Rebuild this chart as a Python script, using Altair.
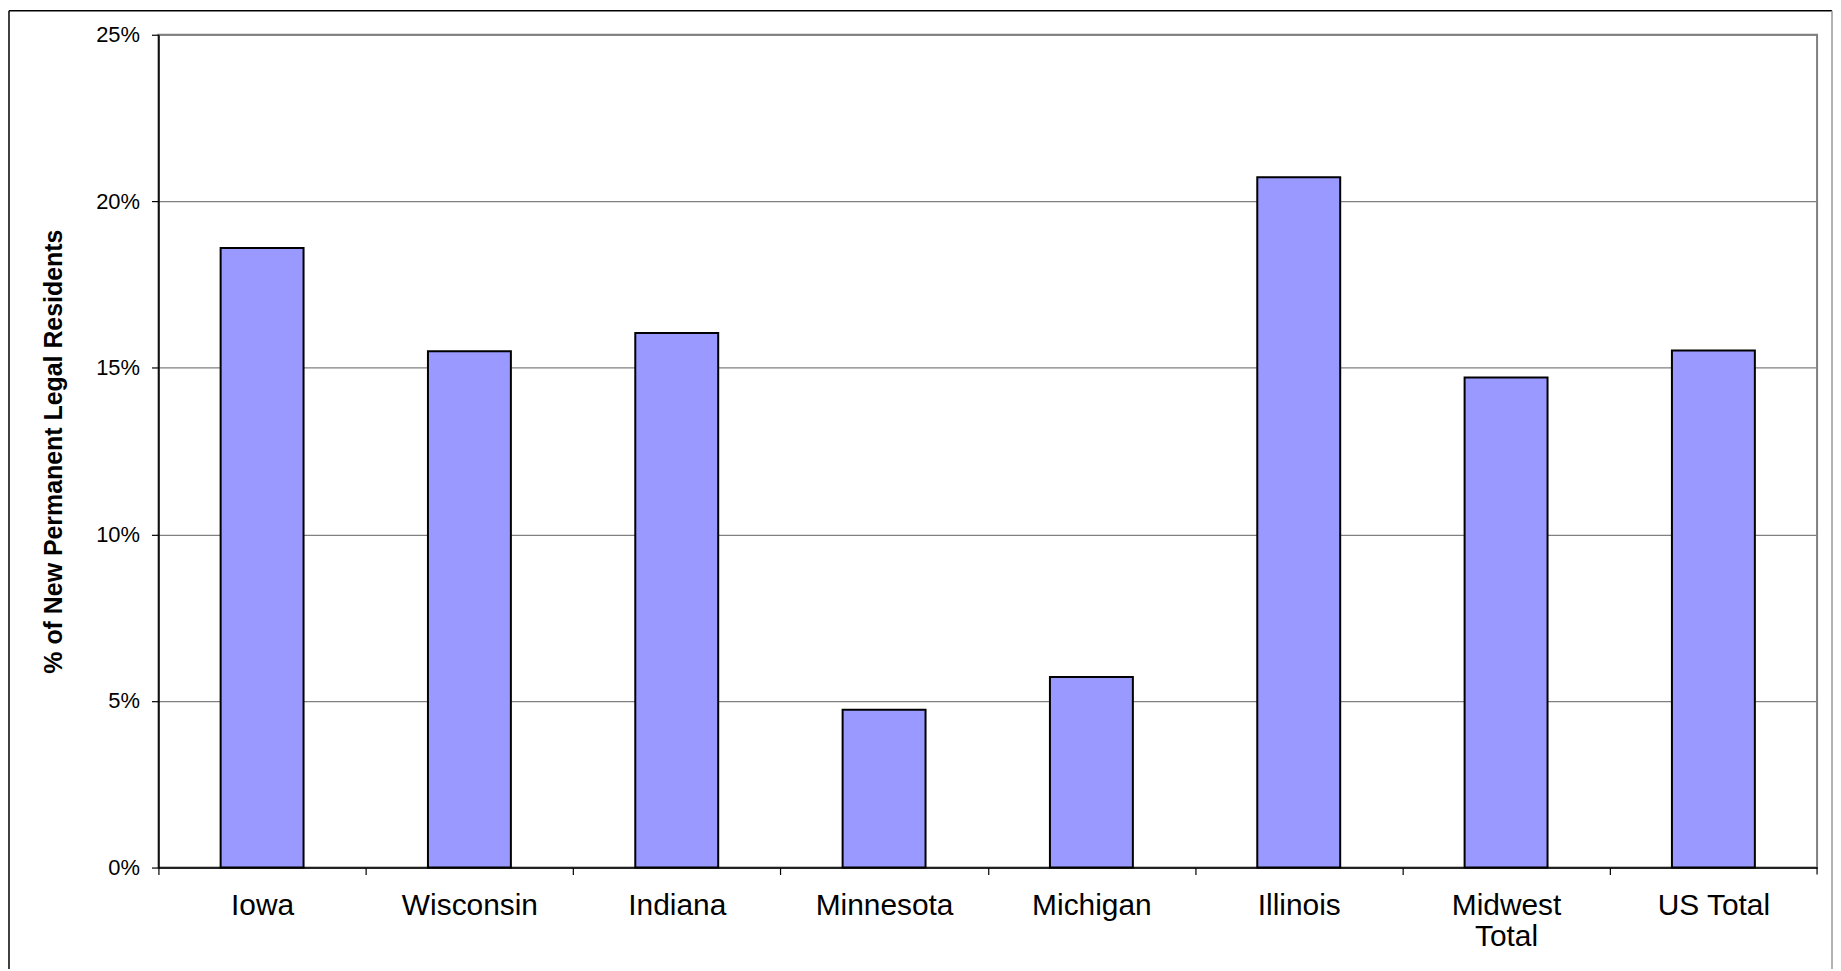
import altair as alt
import pandas as pd

categories = ["Iowa", "Wisconsin", "Indiana", "Minnesota", "Michigan", "Illinois", "Midwest Total", "US Total"]
values = [18.6, 15.5, 16.05, 4.74, 5.72, 20.72, 14.71, 15.52]
y_ticks = [0, 5, 10, 15, 20, 25]
y_title = "% of New Permanent Legal Residents"

df = pd.DataFrame({"category": categories, "value": values})

W, H = 1665, 836
step = W / len(categories)

bars = alt.Chart(df).mark_bar(
    color="#9999FF", stroke="#000000", strokeWidth=2
).encode(
    x=alt.X(
        "category:N",
        sort=categories,
        scale=alt.Scale(paddingInner=0.6, paddingOuter=0.3),
        axis=alt.Axis(
            title=None,
            labelAngle=0,
            labelFont="Liberation Sans",
            labelFontSize=30,
            labelColor="#000000",
            labelBaseline="top",
            labelPadding=16,
            labelLineHeight=31,
            labelExpr="datum.label == 'Midwest Total' ? ['Midwest', 'Total'] : datum.label",
            tickOffset=-step / 2,
            labelOffset=step / 2,
            tickSize=7,
            tickColor="#000000",
            tickWidth=1.2,
            domainColor="#000000",
            domainWidth=1.6,
            grid=False,
        ),
    ),
    y=alt.Y(
        "value:Q",
        scale=alt.Scale(domain=[0, 25], nice=False),
        axis=alt.Axis(
            title=y_title,
            titleFont="Liberation Sans",
            titleFontSize=25,
            titleFontWeight="bold",
            titleColor="#000000",
            titleAngle=-90,
            titleBaseline="alphabetic",
            titleAlign="center",
            titleX=-97,
            titleY=H / 2,
            values=y_ticks,
            labelExpr="datum.value + '%'",
            labelFont="Liberation Sans",
            labelFontSize=22,
            labelColor="#000000",
            labelPadding=12,
            tickSize=7,
            tickColor="#000000",
            tickWidth=1.2,
            domainColor="#000000",
            domainWidth=1.6,
            grid=True,
            gridColor="#808080",
            gridWidth=1.2,
        ),
    ),
)

one = alt.Data(values=[{"k": 1}])

right_tick = alt.Chart(one).mark_rule(color="#000000", strokeWidth=1.2).encode(
    x=alt.value(W), y=alt.value(H), y2=alt.value(H + 7)
)
frame_left = alt.Chart(one).mark_rule(color="#000000", strokeWidth=1.5).encode(
    x=alt.value(-150), y=alt.value(-24), y2=alt.value(940)
)
frame_top = alt.Chart(one).mark_rule(color="#000000", strokeWidth=1.5).encode(
    x=alt.value(-150), x2=alt.value(1680), y=alt.value(-24)
)
frame_right = alt.Chart(one).mark_rule(color="#999999", strokeWidth=1.5).encode(
    x=alt.value(1680), y=alt.value(-24), y2=alt.value(940)
)

chart = alt.layer(bars, right_tick, frame_left, frame_top, frame_right).properties(
    width=W,
    height=H,
    autosize=alt.AutoSizeParams(type="none"),
    padding={"left": 151, "top": 25, "right": 16, "bottom": 100},
    background="#ffffff",
).configure_view(
    stroke="#808080", strokeWidth=2
)

chart.save("out.html", embed_options={"renderer": "svg", "actions": False})
